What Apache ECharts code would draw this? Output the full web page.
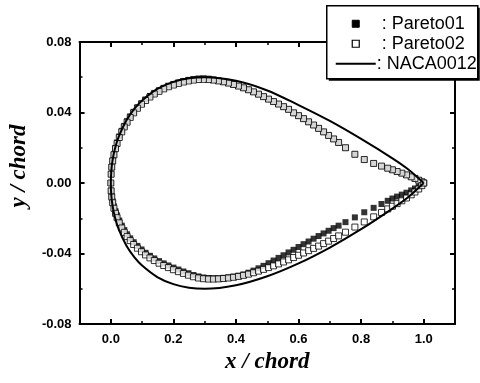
<!DOCTYPE html>
<html><head><meta charset="utf-8">
<script src="https://cdn.jsdelivr.net/npm/echarts@6/dist/echarts.min.js"></script>
<style>html,body{margin:0;padding:0;background:#fff}#c{width:480px;height:383px}</style>
</head><body><div id="c"></div>
<script>
// ---- data ----
const stations = [0,0.001,0.003,0.006,0.01,0.015,0.02,0.027,0.035,0.043,0.052,0.062,0.073,0.085,0.098,0.111,0.125,0.139,0.154,0.169,0.184,0.2,0.216,0.232,0.248,0.264,0.28,0.296,0.312,0.328,0.344,0.36,0.376,0.392,0.408,0.424,0.44,0.456,0.472,0.488,0.504,0.52,0.536,0.552,0.568,0.584,0.6,0.616,0.632,0.648,0.664,0.68,0.696,0.712,0.728,0.75,0.78,0.81,0.84,0.865,0.885,0.9,0.915,0.93,0.945,0.96,0.972,0.984,0.994,1.0];
const pareto02Upper = [0,0.005,0.009,0.0125,0.016,0.0195,0.0224,0.0258,0.029,0.0318,0.0345,0.0372,0.0398,0.0424,0.0447,0.0468,0.0488,0.0505,0.052,0.0534,0.0546,0.0556,0.0565,0.0573,0.0579,0.0584,0.0587,0.0588,0.0587,0.0584,0.0579,0.0574,0.0567,0.0559,0.055,0.054,0.0529,0.0517,0.0504,0.049,0.0476,0.0462,0.0448,0.0433,0.0418,0.0398,0.0382,0.0365,0.0347,0.0329,0.031,0.029,0.027,0.025,0.023,0.02,0.0163,0.0133,0.0111,0.0096,0.0084,0.0075,0.0065,0.0056,0.0046,0.0035,0.0026,0.0016,0.0007,0];
const pareto01Upper = [0,0.005,0.009,0.0127,0.0163,0.0199,0.023,0.0264,0.0296,0.0324,0.0351,0.0378,0.0404,0.043,0.0453,0.0474,0.0494,0.0511,0.0526,0.054,0.0552,0.0562,0.0571,0.0579,0.0585,0.059,0.0593,0.0594,0.0592,0.0587,0.0581,0.0575,0.0567,0.0559,0.055,0.054,0.0529,0.0517,0.0504,0.049,0.0476,0.0462,0.0448,0.0433,0.0418,0.0398,0.0382,0.0365,0.0347,0.0329,0.031,0.029,0.027,0.025,0.023,0.02,0.0163,0.0133,0.0111,0.0096,0.0084,0.0075,0.0065,0.0056,0.0046,0.0035,0.0026,0.0016,0.0007,0];
const pareto02Lower = [0,-0.0045,-0.008,-0.0112,-0.0143,-0.0172,-0.0197,-0.0226,-0.0255,-0.028,-0.0304,-0.0327,-0.0349,-0.037,-0.039,-0.0408,-0.0425,-0.044,-0.0455,-0.0468,-0.048,-0.0492,-0.0503,-0.0513,-0.0523,-0.0532,-0.0539,-0.0543,-0.0545,-0.0545,-0.0544,-0.0542,-0.0539,-0.0535,-0.053,-0.0524,-0.0517,-0.0509,-0.05,-0.049,-0.048,-0.047,-0.0459,-0.0448,-0.0436,-0.0423,-0.041,-0.0397,-0.0384,-0.0371,-0.0358,-0.0344,-0.033,-0.0315,-0.03,-0.0279,-0.025,-0.0221,-0.0192,-0.0167,-0.0147,-0.0132,-0.0117,-0.0101,-0.0085,-0.0067,-0.0051,-0.0034,-0.0015,0];
const pareto01Lower = [0,-0.0043,-0.0075,-0.0104,-0.0133,-0.016,-0.0184,-0.0213,-0.0242,-0.0267,-0.0291,-0.0314,-0.0336,-0.0357,-0.0377,-0.0396,-0.0413,-0.0428,-0.0443,-0.0456,-0.0468,-0.048,-0.0491,-0.0502,-0.0512,-0.0522,-0.053,-0.0536,-0.0539,-0.054,-0.054,-0.0538,-0.0535,-0.0531,-0.0526,-0.0519,-0.0509,-0.0497,-0.0484,-0.047,-0.0455,-0.044,-0.0425,-0.041,-0.0394,-0.0379,-0.0363,-0.0347,-0.0332,-0.0316,-0.0301,-0.0286,-0.0271,-0.0256,-0.0242,-0.0222,-0.0195,-0.0166,-0.0141,-0.0119,-0.0101,-0.0088,-0.0077,-0.0066,-0.0055,-0.0042,-0.0031,-0.002,-0.0008,0];
const nacaX = [1.0,0.95,0.9,0.8,0.7,0.6,0.5,0.4,0.3,0.25,0.2,0.15,0.1,0.075,0.05,0.025,0.0125,0.005,0.0015,0];
const nacaUpper = [0,0.0078,0.014,0.025,0.0352,0.0442,0.0525,0.058,0.06,0.0594,0.0574,0.0535,0.0468,0.042,0.0356,0.0262,0.019,0.0123,0.0067,0];
const nacaLower = [0,-0.0081,-0.0145,-0.0262,-0.0366,-0.0456,-0.0529,-0.058,-0.06,-0.0594,-0.0574,-0.0535,-0.0468,-0.042,-0.0356,-0.0262,-0.019,-0.0123,-0.0067,0];
const xMajorTicks = [0,0.2,0.4,0.6,0.8,1.0];
const seriesNames = ['Pareto01','Pareto02','NACA0012'];

// ---- build point lists (upper surface from TE to LE, then lower surface LE to TE) ----
function contour(xs, up, lo) {
  const pts = [];
  for (let i = xs.length - 1; i >= 0; i--) pts.push([xs[i], up[i]]);
  for (let i = 1; i < xs.length; i++) pts.push([xs[i], lo[i]]);
  return pts;
}
const nacaPts = [];
for (let i = 0; i < nacaX.length; i++) nacaPts.push([nacaX[i], nacaUpper[i]]);
for (let i = nacaX.length - 2; i >= 0; i--) nacaPts.push([nacaX[i], nacaLower[i]]);

const tickFont = {fontFamily:'Liberation Sans, Arial', fontWeight:'bold', fontSize:13, color:'#000'};
const titleFont = {fontFamily:'Liberation Serif, Times New Roman', fontWeight:'bold', fontStyle:'italic', fontSize:23, color:'#000'};
const axisLine = {show:true, onZero:false, lineStyle:{color:'#000', width:2}};
const noLine = {show:false, onZero:false};

const chart = echarts.init(document.getElementById('c'));
chart.setOption({
  animation:false,
  grid:{left:71, right:25, top:42, bottom:59, containLabel:false},
  xAxis:[
    {type:'value', position:'bottom', min:-0.1, max:1.1, interval:0.1,
     axisLine:axisLine, splitLine:{show:false},
     axisTick:{show:true, inside:true, length:5, lineStyle:{color:'#000', width:2}, customValues:xMajorTicks},
     axisLabel:Object.assign({margin:9, customValues:xMajorTicks, formatter:v=>v.toFixed(1)}, tickFont),
     name:'x / chord', nameLocation:'middle', nameGap:26, nameTextStyle:titleFont},
    {type:'value', position:'bottom', min:-0.1, max:1.1, interval:0.1,
     axisLine:noLine, splitLine:{show:false}, axisLabel:{show:false},
     axisTick:{show:true, inside:true, length:3, lineStyle:{color:'#000', width:1.5}}},
    {type:'value', position:'top', min:-0.1, max:1.1, interval:0.1,
     axisLine:axisLine, splitLine:{show:false}, axisLabel:{show:false},
     axisTick:{show:true, inside:true, length:5, lineStyle:{color:'#000', width:2}, customValues:xMajorTicks}},
    {type:'value', position:'top', min:-0.1, max:1.1, interval:0.1,
     axisLine:noLine, splitLine:{show:false}, axisLabel:{show:false},
     axisTick:{show:true, inside:true, length:3, lineStyle:{color:'#000', width:1.5}}}
  ],
  yAxis:[
    {type:'value', position:'left', min:-0.08, max:0.08, interval:0.04,
     axisLine:axisLine, splitLine:{show:false},
     axisTick:{show:true, inside:true, length:5, lineStyle:{color:'#000', width:2}},
     minorTick:{show:true, splitNumber:2, length:3, lineStyle:{color:'#000', width:1.5}},
     axisLabel:Object.assign({margin:8, formatter:v=>v.toFixed(2)}, tickFont),
     name:'y / chord', nameLocation:'middle', nameGap:36, nameRotate:90,
     nameTextStyle:Object.assign({padding:[0,0,0,34]}, titleFont)},
    {type:'value', position:'right', min:-0.08, max:0.08, interval:0.04,
     axisLine:axisLine, splitLine:{show:false}, axisLabel:{show:false},
     axisTick:{show:true, inside:true, length:5, lineStyle:{color:'#000', width:2}},
     minorTick:{show:true, splitNumber:2, length:3, lineStyle:{color:'#000', width:1.5}}}
  ],
  series:[
    {name:seriesNames[0], type:'scatter', xAxisIndex:0, yAxisIndex:0, symbol:'rect', symbolSize:6,
     itemStyle:{color:'#000'}, data:contour(stations, pareto01Upper, pareto01Lower), z:2},
    {name:seriesNames[1], type:'scatter', xAxisIndex:0, yAxisIndex:0, symbol:'rect', symbolSize:6,
     itemStyle:{color:'#fff', borderColor:'#000', borderWidth:1}, data:contour(stations, pareto02Upper, pareto02Lower), z:3},
    {name:seriesNames[2], type:'line', xAxisIndex:0, yAxisIndex:0, showSymbol:false, smooth:0.3,
     lineStyle:{color:'#000', width:2}, data:nacaPts, z:4}
  ],
  graphic:[
    {type:'group', left:326, top:5, zlevel:1, z:100, children:[
      {type:'rect', zlevel:1, z:100, shape:{x:2, y:2, width:151, height:73}, style:{fill:'#000'}},
      {type:'rect', zlevel:1, z:101, shape:{x:0, y:0, width:151, height:73}, style:{fill:'#fff', stroke:'#000', lineWidth:1.5}},
      {type:'rect', zlevel:1, z:102, shape:{x:25.5, y:14.5, width:7, height:7}, style:{fill:'#000', stroke:'#000', lineWidth:1}},
      {type:'rect', zlevel:1, z:102, shape:{x:25.5, y:34.5, width:7, height:7}, style:{fill:'#fff', stroke:'#000', lineWidth:1.2}},
      {type:'line', zlevel:1, z:102, shape:{x1:9, y1:58, x2:49, y2:58}, style:{stroke:'#000', lineWidth:2}},
      {type:'text', zlevel:1, z:102, x:55, y:18, style:{text:': '+seriesNames[0], font:'18px "Liberation Sans", Arial', fill:'#000', verticalAlign:'middle'}},
      {type:'text', zlevel:1, z:102, x:55, y:38, style:{text:': '+seriesNames[1], font:'18px "Liberation Sans", Arial', fill:'#000', verticalAlign:'middle'}},
      {type:'text', zlevel:1, z:102, x:50, y:58, style:{text:': '+seriesNames[2], font:'18px "Liberation Sans", Arial', fill:'#000', verticalAlign:'middle'}}
    ]}
  ]
});
</script></body></html>
